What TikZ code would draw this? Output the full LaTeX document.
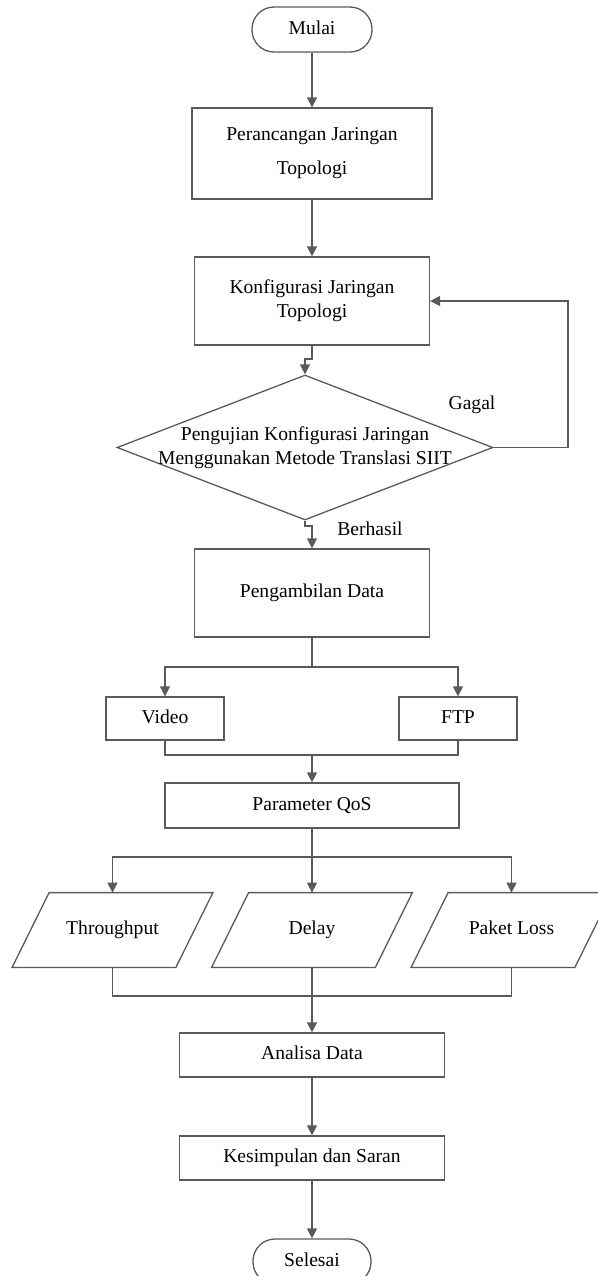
\documentclass[tikz,border=0pt]{standalone}
\usepackage{fontspec}
\setmainfont{Liberation Serif}
\usetikzlibrary{shapes.geometric,arrows.meta}
\definecolor{ln}{RGB}{90,90,90}
\def\u{0.5pt}
\tikzset{
  box/.style={draw=ln, line width=0.65pt, rectangle, inner sep=0pt, align=center, font=\fontsize{9.8}{12}\selectfont},
  sl/.style={text height=6.8pt, text depth=2.2pt},
  term/.style={box, sl, rounded corners=11pt},
  txt/.style={inner sep=0pt, align=center, font=\fontsize{9.8}{12}\selectfont},
  arr/.style={draw=ln, line width=0.65pt, -{Triangle[width=5pt,length=5pt]}},
  ln/.style={draw=ln, line width=0.65pt},
  para/.style={rectangle, inner sep=0pt, sl, align=center, font=\fontsize{9.8}{12}\selectfont, minimum width=163*\u, minimum height=74*\u}
}
\newcommand{\parashape}[1]{%
  \draw[ln] ([xshift=18.5*\u]#1.north west) -- ([xshift=18.5*\u]#1.north east) -- ([xshift=-18.5*\u]#1.south east) -- ([xshift=-18.5*\u]#1.south west) -- cycle;}
\begin{document}
\begin{tikzpicture}[x=0.5pt,y=-0.5pt]
\useasboundingbox (0,0) rectangle (598,1276);
% nodes
\node[term, minimum width=120*\u, minimum height=45*\u] (mulai) at (312,29.5) {Mulai};
\node[box, minimum width=240*\u, minimum height=91*\u] (pt1) at (312,153.5) {Perancangan Jaringan\\[5pt]Topologi};
\node[box, minimum width=235*\u, minimum height=88*\u] (konf) at (312,301) {Konfigurasi Jaringan\\Topologi};
\node[diamond, draw=ln, line width=0.65pt, inner sep=0pt, minimum width=376*\u, minimum height=145*\u] (dia) at (305,447.5) {};
\node[txt] (diat) at (dia.center) {Pengujian Konfigurasi Jaringan\\Menggunakan Metode Translasi SIIT};
\node[box, sl, minimum width=235*\u, minimum height=88*\u] (pd) at (312,593) {Pengambilan Data};
\node[box, sl, minimum width=118*\u, minimum height=43*\u] (video) at (165,718.5) {Video};
\node[box, sl, minimum width=118*\u, minimum height=43*\u] (ftp) at (458,718.5) {FTP};
\node[box, sl, minimum width=294*\u, minimum height=45*\u] (qos) at (312,805.5) {Parameter QoS};
\node[para] (thr) at (112.5,930) {Throughput};
\node[para] (del) at (312,930) {Delay};
\node[para] (pl) at (511.5,930) {Paket Loss};
\parashape{thr}
\parashape{del}
\parashape{pl}
\node[box, sl, minimum width=265*\u, minimum height=44*\u] (ana) at (312,1055) {Analisa Data};
\node[box, sl, minimum width=265*\u, minimum height=44*\u] (kes) at (312,1158) {Kesimpulan dan Saran};
\node[term, minimum width=118*\u, minimum height=45*\u] (sel) at (312,1261.5) {Selesai};
\node[txt, sl] (gagal) at (472,405) {Gagal};
\node[txt, sl] (berhasil) at (370,531) {Berhasil};
% coordinates
\coordinate (j1) at (312,359);
\coordinate (j2) at (305,359);
\coordinate (j3) at (305,526);
\coordinate (j4) at (312,526);
\coordinate (s1) at (312,667);
\coordinate (m1) at (312,755);
\coordinate (s2) at (312,857);
\coordinate (m3) at (312,996);
\coordinate (lp) at (568,447.5);
% connectors
\draw[arr] (mulai.south) -- (pt1.north);
\draw[arr] (pt1.south) -- (konf.north);
\draw[arr] (konf.south) -- (j1) -- (j2) -- (dia.north);
\draw[arr] (dia.south) -- (j3) -- (j4) -- (pd.north);
\draw[arr] (dia.east) -- (lp) |- (konf.east);
\draw[ln] (pd.south) -- (s1);
\draw[arr] (s1) -| (video.north);
\draw[arr] (s1) -| (ftp.north);
\draw[ln] (video.south) |- (m1) -| (ftp.south);
\draw[arr] (m1) -- (qos.north);
\draw[ln] (qos.south) -- (s2);
\draw[arr] (s2) -| (thr.north);
\draw[arr] (s2) -| (pl.north);
\draw[arr] (s2) -- (del.north);
\draw[ln] (thr.south) |- (m3) -| (pl.south);
\draw[arr] (del.south) -- (ana.north);
\draw[arr] (ana.south) -- (kes.north);
\draw[arr] (kes.south) -- (sel.north);
\end{tikzpicture}
\end{document}
